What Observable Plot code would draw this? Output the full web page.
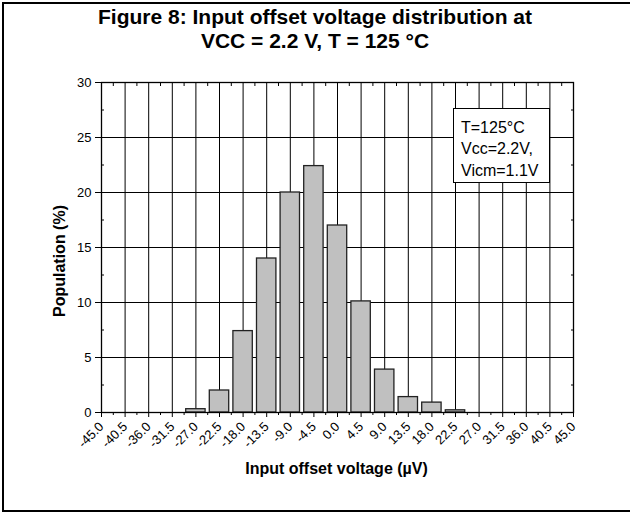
<!DOCTYPE html>
<html><head><meta charset="utf-8">
<script src="https://cdn.jsdelivr.net/npm/d3@7"></script>
<script src="https://cdn.jsdelivr.net/npm/@observablehq/plot@0.6"></script>
<style>
body{margin:0;background:#fff;font-family:"Liberation Sans",Arial,sans-serif;color:#000;}
#wrap{position:relative;width:630px;height:513px;overflow:hidden;background:#fff;}
#border{position:absolute;left:2px;top:2px;width:700px;height:506px;border-left:2px solid #000;border-top:2px solid #000;border-bottom:2px solid #000;}
#chart{position:absolute;left:0;top:0;}
#title{position:absolute;left:0;top:5px;width:630px;text-align:center;font-weight:bold;font-size:21px;line-height:23.5px;}
#xlabel{position:absolute;left:236.5px;width:200px;top:459.5px;text-align:center;font-weight:bold;font-size:16px;line-height:18px;white-space:nowrap;}
#ylabel{position:absolute;left:59.5px;top:261px;transform:translate(-50%,-50%) rotate(-90deg);font-weight:bold;font-size:16px;line-height:18px;white-space:nowrap;}
#legend{position:absolute;left:453px;top:108px;width:97px;height:75px;box-sizing:border-box;border:1px solid #000;background:#fff;font-size:16px;line-height:21.5px;padding:7.5px 0 0 7px;white-space:nowrap;}
</style>
</head><body>
<div id="wrap">
  <div id="border"></div>
  <div id="chart"></div>
  <div id="title">Figure 8: Input offset voltage distribution at<br>VCC = 2.2 V, T = 125 °C</div>
  <div id="xlabel">Input offset voltage (µV)</div>
  <div id="ylabel">Population (%)</div>
  <div id="legend">T=125°C<br>Vcc=2.2V,<br>Vicm=1.1V</div>
</div>
<script>
// Data
const voltage = [-27.0, -22.5, -18.0, -13.5, -9.0, -4.5, 0.0, 4.5, 9.0, 13.5, 18.0, 22.5];
const population = [0.3, 2.0, 7.4, 14.0, 20.0, 22.4, 17.0, 10.1, 3.9, 1.4, 0.9, 0.2];
const xTickLabels = [-45.0, -40.5, -36.0, -31.5, -27.0, -22.5, -18.0, -13.5, -9.0, -4.5, 0.0, 4.5, 9.0, 13.5, 18.0, 22.5, 27.0, 31.5, 36.0, 40.5, 45.0];
const yTickLabels = [0, 5, 10, 15, 20, 25, 30];
const binWidth = 3.7;

const data = voltage.map((v, i) => ({v, p: population[i]}));
const xMinor = d3.pairs(xTickLabels).map(([a, b]) => (a + b) / 2);
const yMinor = d3.pairs(yTickLabels).map(([a, b]) => (a + b) / 2);

const chart = Plot.plot({
  width: 630, height: 513,
  marginLeft: 101, marginRight: 57, marginTop: 82, marginBottom: 101,
  x: {domain: [xTickLabels[0], xTickLabels[xTickLabels.length - 1]]},
  y: {domain: [yTickLabels[0], yTickLabels[yTickLabels.length - 1]]},
  style: {fontFamily: "Liberation Sans, Arial, sans-serif", fontSize: "13px", color: "#000", background: "transparent"},
  marks: [
    Plot.gridX(xTickLabels.slice(1, -1), {stroke: "#000", strokeOpacity: 1}),
    Plot.gridY(yTickLabels.slice(1, -1), {stroke: "#000", strokeOpacity: 1}),
    Plot.rect(data, {x1: d => d.v - binWidth / 2, x2: d => d.v + binWidth / 2, y1: 0, y2: "p", fill: "#c0c0c0", stroke: "#222", strokeWidth: 1.3}),
    Plot.frame({stroke: "#000", strokeWidth: 1.3}),
    Plot.axisX(xTickLabels, {tickSize: 5, tickRotate: -45, tickPadding: 7, tickFormat: d => d.toFixed(1), fontSize: 13, label: null}),
    Plot.axisX(xMinor, {tickSize: 3, tickFormat: () => "", label: null}),
    Plot.axisX(xMinor, {anchor: "top", tickSize: -3, tickFormat: () => "", label: null}),
    Plot.axisY(yTickLabels, {tickSize: 6, tickPadding: 4, fontSize: 13, label: null}),
    Plot.axisY(yMinor, {tickSize: -3, tickFormat: () => "", label: null}),
    Plot.axisY(yMinor, {anchor: "right", tickSize: -3, tickFormat: () => "", label: null})
  ]
});
document.getElementById("chart").appendChild(chart);
</script>
</body></html>
